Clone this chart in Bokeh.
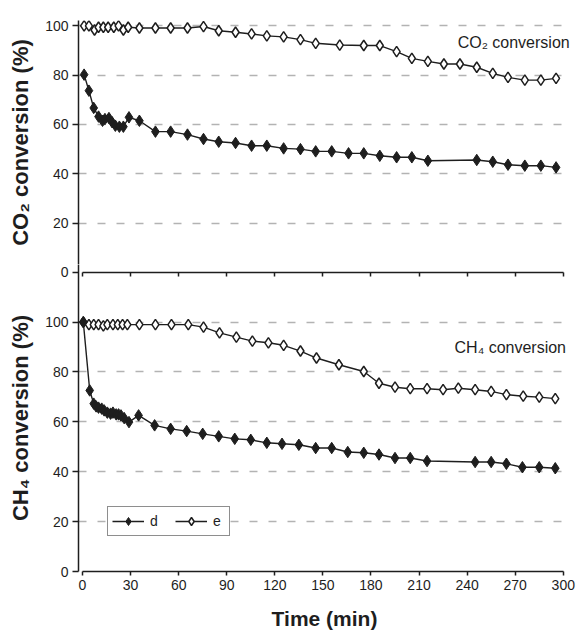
from bokeh.plotting import figure
from bokeh.models import Range1d, FixedTicker, LinearAxis, Label, Legend, LegendItem
from bokeh.layouts import column
from bokeh.embed import file_html
from bokeh.resources import INLINE

# ---- data ----
time_ticks = [0, 30, 60, 90, 120, 150, 180, 210, 240, 270, 300]
y_ticks = [0, 20, 40, 60, 80, 100]
grid_ticks = [20, 40, 60, 80, 100]

time_co2_d = [1, 4, 7, 10, 12.5, 14, 16.5, 18.5, 20.5, 23, 25.5, 29, 35.5, 45.5, 55, 65.5, 75.5, 85, 95.5, 105.5,
              115, 125.5, 136, 145.5, 155.5, 166, 175.5, 185.5, 196, 205.5, 215.5, 246, 256, 265.5, 276, 286, 295.5]
co2_d = [80.2, 73.7, 66.7, 63.2, 61.5, 62.2, 62.6, 60.9, 59.5, 59.1, 59.1, 62.9, 61.5, 57.1, 57.1, 55.9, 54.1, 53.0, 52.5, 51.4,
         51.4, 50.3, 50.0, 49.1, 49.1, 48.3, 48.3, 47.3, 46.7, 46.7, 45.3, 45.6, 44.9, 43.7, 43.3, 43.3, 42.6]

time_co2_e = [1, 4, 7.5, 10, 13, 16, 19.5, 22.5, 25.5, 28.5, 35.5, 45.5, 55, 65.5, 75.5, 85, 95.5, 105.5, 115, 125.5,
              136, 145.5, 160.5, 175.5, 185.5, 196, 205.5, 215.5, 225.5, 235.5, 246, 256, 265.5, 276, 286, 295.5]
co2_e = [100, 100, 98.3, 99.4, 99.4, 99.4, 99.4, 100, 98.3, 99.4, 99.1, 99.1, 99.1, 99.1, 99.7, 98.0, 97.4, 96.7, 95.9, 95.5,
         94.4, 92.9, 92.2, 92.0, 92.0, 89.5, 86.8, 85.6, 84.5, 84.5, 83.2, 80.7, 79.1, 78.0, 78.0, 78.7]

time_ch4_d = [0.5, 4.5, 7, 8.5, 10, 12, 13.5, 15.5, 17.5, 19, 21, 22.5, 24, 26, 29, 35, 45, 55, 65, 75,
              85, 95, 105, 115, 124.5, 135, 145.5, 155.5, 165.5, 175.5, 185, 195, 204.5, 215, 245, 255, 264.5, 274.5, 285, 295]
ch4_d = [100, 72.6, 67.3, 66.2, 65.7, 65.3, 64.6, 63.7, 63.3, 63.7, 63.0, 63.0, 62.6, 61.5, 59.9, 62.6, 58.6, 57.2, 56.3, 55.2,
         54.2, 53.2, 52.8, 51.6, 51.2, 50.8, 49.5, 49.5, 47.9, 47.6, 46.9, 45.5, 45.5, 44.3, 43.9, 43.9, 43.2, 41.8, 41.8, 41.4]

time_ch4_e = [0.5, 4, 7, 10, 13, 15.5, 19, 22, 25, 28, 35.5, 45.5, 55.5, 66, 75.5, 85.5, 96, 106, 116, 125.5,
              136, 146, 160, 175.5, 185, 195, 204.5, 215, 225, 234.5, 245, 255, 264.5, 275, 285, 295]
ch4_e = [100, 99.0, 99.0, 99.0, 98.5, 99.0, 99.0, 99.0, 99.0, 99.0, 99.0, 99.0, 99.0, 99.0, 98.0, 95.7, 94.0, 92.4, 91.7, 90.7,
         88.4, 85.6, 82.9, 80.2, 75.5, 73.9, 73.3, 73.3, 72.9, 73.5, 72.9, 72.2, 70.9, 70.3, 69.9, 69.3]

series_labels = ["d", "e"]
top_label = "CO\u2082 conversion (%)"
bottom_label = "CH\u2084 conversion (%)"
top_note = "CO\u2082 conversion"
bottom_note = "CH\u2084 conversion"
x_title = "Time (min)"

FONT = "Liberation Sans"
INK = "#1e1e1e"

# The lower figure also carries the zero line of the upper panel (at PANEL_OFFSET on its y scale)
PANEL_OFFSET = 120

x_range = Range1d(-2.5, 304.5)


def style_fig(p):
    p.outline_line_color = None
    p.background_fill_color = "white"
    p.border_fill_color = "white"
    p.ygrid.ticker = FixedTicker(ticks=grid_ticks)
    p.ygrid.grid_line_color = "#b3b3b3"
    p.ygrid.grid_line_dash = "8 11"
    p.ygrid.grid_line_width = 1.5


def style_axis(ax, tick_out):
    ax.axis_line_color = INK
    ax.axis_line_width = 1.5
    ax.major_tick_line_color = INK
    ax.major_tick_line_width = 1.5
    ax.major_tick_out = tick_out
    ax.major_tick_in = 0
    ax.minor_tick_line_color = None
    ax.major_label_text_font = FONT
    ax.major_label_text_font_size = "14px"
    ax.major_label_text_color = INK
    ax.axis_label_text_font = FONT
    ax.axis_label_text_font_style = "bold"
    ax.axis_label_text_font_size = "22px"
    ax.axis_label_text_color = INK


def draw(p, td, vd, te, ve):
    le = p.line(te, ve, line_color=INK, line_width=1.4)
    se = p.scatter(te, ve, marker="diamond", size=10.5, fill_color="white", line_color=INK, line_width=1.5)
    ld = p.line(td, vd, line_color=INK, line_width=1.4)
    sd = p.scatter(td, vd, marker="diamond", size=11.5, fill_color=INK, line_color=INK, line_width=1)
    return (ld, sd), (le, se)


# ---- top panel: CO2 ----
top = figure(width=579, height=264, x_range=x_range, y_range=Range1d(3.24, 102.15),
             output_backend="svg", toolbar_location=None, x_axis_location=None,
             min_border_left=78, min_border_right=9, min_border_top=20, min_border_bottom=0)
style_fig(top)
top.xgrid.visible = False
top.yaxis.ticker = FixedTicker(ticks=[t for t in y_ticks if t > 0])
style_axis(top.yaxis[0], 6)
top.yaxis.major_label_standoff = 4
top.yaxis.axis_label = top_label
top.yaxis.axis_label_standoff = 9
draw(top, time_co2_d, co2_d, time_co2_e, co2_e)
top.add_layout(Label(x=304, y=93.4, text=top_note, text_align="right", text_baseline="middle",
                     text_font=FONT, text_font_size="16px", text_color=INK))

# ---- bottom panel: CH4 ----
bottom = figure(width=579, height=368, x_range=x_range, y_range=Range1d(0, 123.1),
                output_backend="svg", toolbar_location=None,
                min_border_left=78, min_border_right=9, min_border_top=0, min_border_bottom=61)
style_fig(bottom)
bottom.yaxis.ticker = FixedTicker(ticks=y_ticks + [PANEL_OFFSET])
bottom.yaxis.major_label_overrides = {PANEL_OFFSET: "0"}
style_axis(bottom.yaxis[0], 6)
bottom.yaxis.major_label_standoff = 4
bottom.yaxis.axis_label = bottom_label
bottom.yaxis.axis_label_standoff = 9
bottom.xaxis.ticker = FixedTicker(ticks=time_ticks)
bottom.xaxis.bounds = (0, 300)
style_axis(bottom.xaxis[0], 4)
bottom.xaxis.axis_label_text_font_size = "21px"
bottom.xaxis.major_label_standoff = 4
bottom.xaxis.axis_label = x_title
bottom.xaxis.axis_label_standoff = 14
bottom.xgrid.visible = False

# x axis line of the upper panel (its zero line), ticks pointing down
upper_x = LinearAxis(ticker=FixedTicker(ticks=time_ticks), fixed_location=PANEL_OFFSET, bounds=(0, 300))
style_axis(upper_x, 0)
upper_x.major_tick_in = 4
upper_x.major_label_overrides = {t: "" for t in time_ticks}
upper_x.major_label_standoff = 0
bottom.add_layout(upper_x, "above")

(ld, sd), (le, se) = draw(bottom, time_ch4_d, ch4_d, time_ch4_e, ch4_e)
bottom.add_layout(Label(x=301.7, y=90.0, text=bottom_note, text_align="right", text_baseline="middle",
                        text_font=FONT, text_font_size="16px", text_color=INK))

legend = Legend(items=[LegendItem(label=series_labels[0], renderers=[ld, sd]),
                       LegendItem(label=series_labels[1], renderers=[le, se])],
                location=(29, 35), orientation="horizontal",
                glyph_width=32, glyph_height=20, label_standoff=6, label_width=12, label_height=12,
                spacing=13, padding=4, margin=0,
                border_line_color=INK, border_line_width=1.5,
                background_fill_color="white", background_fill_alpha=1.0,
                label_text_font=FONT, label_text_font_size="14px", label_text_color=INK)
bottom.add_layout(legend)

layout = column(top, bottom, spacing=0)

with open("out.html", "w") as f:
    f.write(file_html(layout, INLINE))
